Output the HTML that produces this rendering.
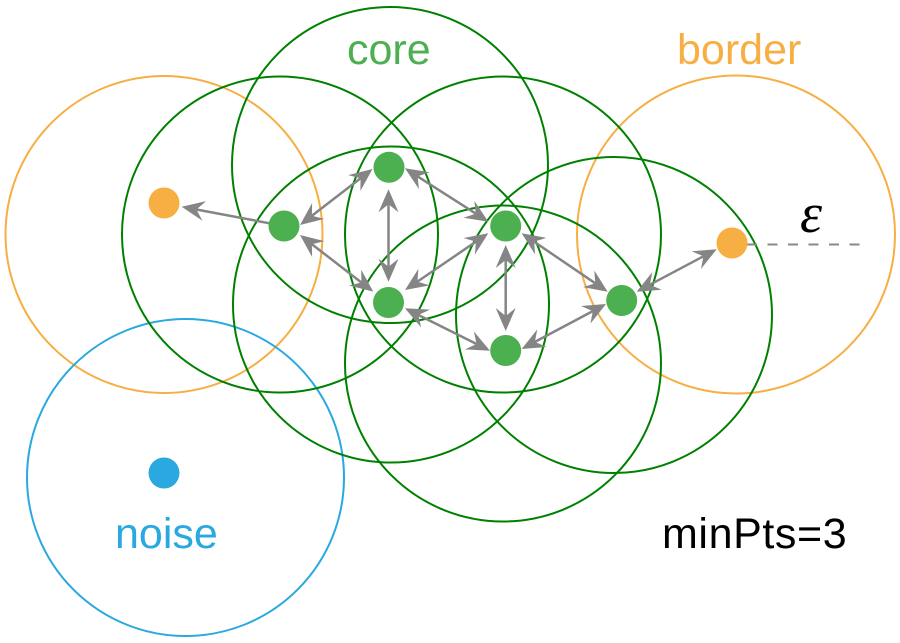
<!DOCTYPE html>
<html>
<head>
<meta charset="utf-8">
<style>
html,body{margin:0;padding:0;background:#fff;}
svg{display:block;}
</style>
</head>
<body>
<svg width="900" height="643" viewBox="0 0 900 643" xmlns="http://www.w3.org/2000/svg">
<defs>
<marker id="ah" markerUnits="userSpaceOnUse" markerWidth="40" markerHeight="40" refX="0" refY="0" orient="auto-start-reverse" overflow="visible" viewBox="-20 -20 40 40">
<path d="M15,0 L-8,-10 L0,0 L-8,10 Z" fill="#858585"/>
</marker>
</defs>
<rect width="900" height="643" fill="#fff"/>

<!-- circles -->
<g fill="none" stroke-width="2">
<circle cx="164" cy="234.5" r="158.5" stroke="#f7ae42"/>
<circle cx="736" cy="234.5" r="159" stroke="#f7ae42"/>
<circle cx="185.5" cy="477.5" r="158.5" stroke="#2aa8e0"/>
<g stroke="#008000">
<circle cx="280" cy="234.5" r="158"/>
<circle cx="390" cy="165" r="158"/>
<circle cx="391" cy="304.5" r="158"/>
<circle cx="503" cy="234.5" r="158"/>
<circle cx="503" cy="363.5" r="158"/>
<circle cx="614" cy="315" r="158"/>
</g>
</g>

<!-- dashed epsilon line -->
<line x1="747" y1="244.5" x2="867" y2="244.5" stroke="#888" stroke-width="2" stroke-dasharray="10,10.5"/>

<!-- arrows -->
<g stroke="#858585" stroke-width="2.5" fill="none">
<line x1="284" y1="226" x2="196.4" y2="209.5" marker-end="url(#ah)"/>
<line x1="311.9" y1="215.8" x2="360.6" y2="178.2" marker-start="url(#ah)" marker-end="url(#ah)"/>
<line x1="311.9" y1="244.2" x2="361.4" y2="282.5" marker-start="url(#ah)" marker-end="url(#ah)"/>
<line x1="388.5" y1="204.3" x2="388.5" y2="266.7" marker-start="url(#ah)" marker-end="url(#ah)"/>
<line x1="417.6" y1="176.4" x2="475.7" y2="213.6" marker-start="url(#ah)" marker-end="url(#ah)"/>
<line x1="417.4" y1="281.6" x2="475.9" y2="241.7" marker-start="url(#ah)" marker-end="url(#ah)"/>
<line x1="418.4" y1="315.0" x2="476.6" y2="344.0" marker-start="url(#ah)" marker-end="url(#ah)"/>
<line x1="505.7" y1="260" x2="505.7" y2="316" marker-start="url(#ah)" marker-end="url(#ah)"/>
<line x1="534.1" y1="241.7" x2="595.3" y2="283.3" marker-start="url(#ah)" marker-end="url(#ah)"/>
<line x1="534.9" y1="341.9" x2="592.8" y2="311.1" marker-start="url(#ah)" marker-end="url(#ah)"/>
<line x1="649.9" y1="284.7" x2="703.4" y2="256.3" marker-start="url(#ah)" marker-end="url(#ah)"/>
</g>

<!-- points -->
<g>
<circle cx="164" cy="203" r="15.5" fill="#f7ae42"/>
<circle cx="732" cy="243" r="15.5" fill="#f7ae42"/>
<circle cx="164" cy="473" r="15.5" fill="#2aa8e0"/>
<g fill="#4caf50">
<circle cx="284" cy="226" r="15.5"/>
<circle cx="389" cy="167.3" r="15.5"/>
<circle cx="388.5" cy="302.5" r="15.5"/>
<circle cx="505.7" cy="226" r="15.5"/>
<circle cx="505.7" cy="350.5" r="15.5"/>
<circle cx="621.7" cy="300.5" r="15.5"/>
</g>
</g>

<!-- labels -->
<g font-family="'Liberation Sans', sans-serif" font-size="43">
<text x="347" y="64" fill="#4caf50">core</text>
<text x="677" y="64" fill="#f7ae42">border</text>
<text x="115" y="548" fill="#2aa8e0">noise</text>
<text x="662" y="548" fill="#000" letter-spacing="0.6">minPts=3</text>
</g>
<text x="800" y="232" font-family="'Liberation Serif', serif" font-style="italic" font-size="56" fill="#000">ε</text>
</svg>
</body>
</html>
